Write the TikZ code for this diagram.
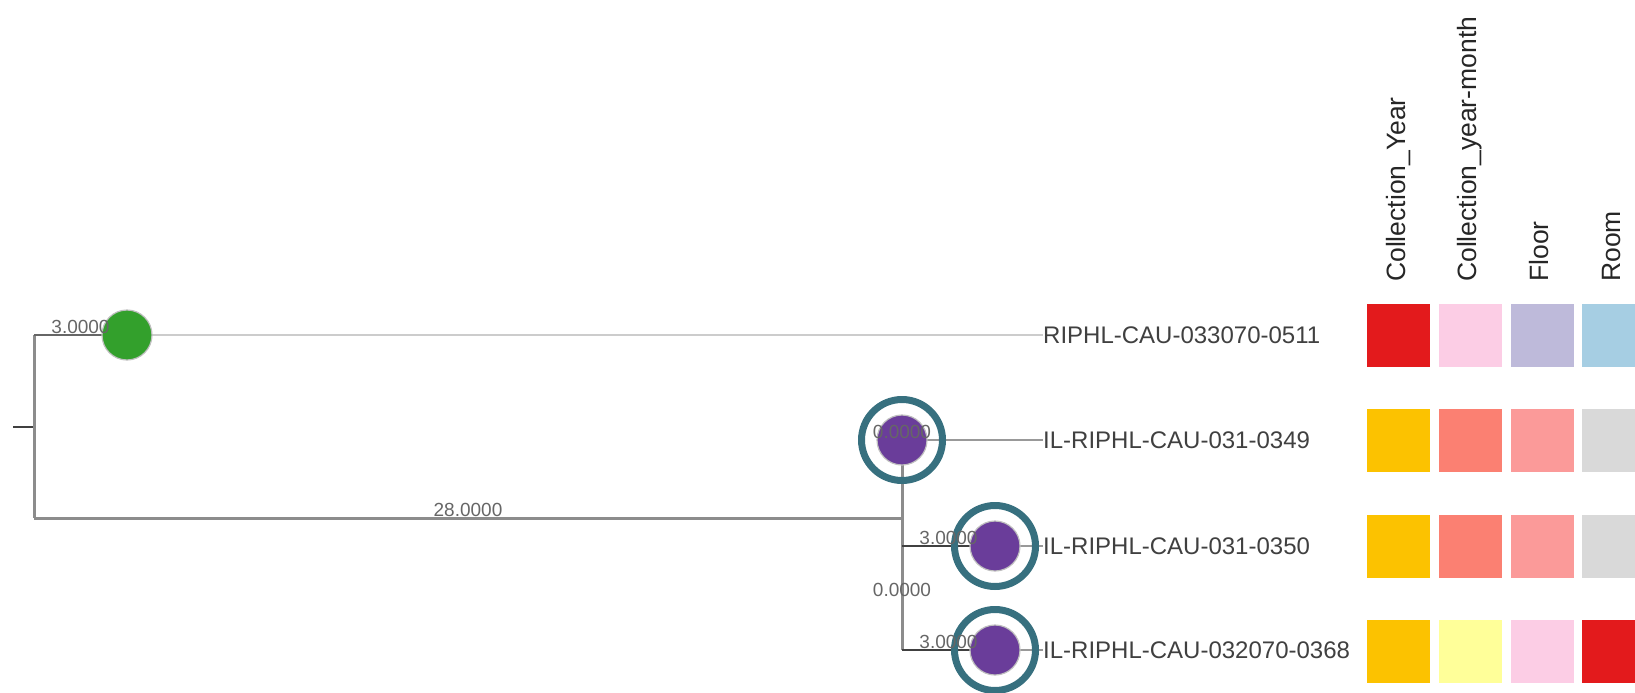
\documentclass[tikz,border=0pt]{standalone}
\usepackage{fontspec}
\setmainfont{Liberation Sans}
\usetikzlibrary{positioning}

\definecolor{cgreen}{HTML}{33A02C}
\definecolor{cpurple}{HTML}{6A3D9A}
\definecolor{cteal}{HTML}{37707F}
\definecolor{cred}{HTML}{E31A1C}
\definecolor{cpink}{HTML}{FCCDE5}
\definecolor{clav}{HTML}{BEBADA}
\definecolor{cblue}{HTML}{A6CEE3}
\definecolor{camber}{HTML}{FCC200}
\definecolor{csalmon}{HTML}{FB8072}
\definecolor{crose}{HTML}{FB9A99}
\definecolor{cgrey}{HTML}{D9D9D9}
\definecolor{cyellow}{HTML}{FFFF99}

\tikzset{
  stem/.style={draw=black!45, line width=3pt},
  twig/.style={draw=black!75, line width=2pt},
  tail/.style={draw=black!40, line width=1.5pt},
  dot/.style={circle, inner sep=0pt, minimum size=50pt, draw=black!25, line width=1.2pt},
  ring/.style={circle, inner sep=0pt, minimum size=81pt, draw=cteal, line width=7pt},
  blen/.style={above, inner sep=1pt, text=black!60, font=\fontsize{19}{22}\selectfont},
  leaf/.style={anchor=base west, yshift=-8pt, inner sep=0pt, text=black!75, font=\fontsize{24}{28}\selectfont},
  head/.style={anchor=mid west, rotate=90, inner sep=0pt, text=black!85, font=\fontsize{26.5}{30}\selectfont},
  cell/.style={minimum size=63pt, inner sep=0pt}
}

\begin{document}
\begin{tikzpicture}[x=1pt,y=-1pt]
 	\useasboundingbox (0,0) rectangle (1635,693);
 	% tree layout
 	\coordinate (tick) at (13,427);
 	\coordinate (root) at (34,427);
 	\coordinate (top) at (34,335);
 	\coordinate (bot) at (34,518);
 	\coordinate (p511) at (127,335);
 	\coordinate (pA) at (902,518);
 	\coordinate (p349) at (902,440);
 	\coordinate (inner) at (902,598);
 	\coordinate (c350) at (902,546);
 	\coordinate (c368) at (902,650);
 	\coordinate (p350) at (995,546);
 	\coordinate (p368) at (995,650);
 	\node[leaf] (l511) at (1043,335) {RIPHL-CAU-033070-0511};
 	\node[leaf] (l349) at (1043,440) {IL-RIPHL-CAU-031-0349};
 	\node[leaf] (l350) at (1043,546) {IL-RIPHL-CAU-031-0350};
 	\node[leaf] (l368) at (1043,650) {IL-RIPHL-CAU-032070-0368};
 	% branches
 	\draw[twig] (tick) -- (root);
 	\draw[stem] (top) -- (bot);
 	\draw[twig, draw=black!60] (top) -- (p511);
 	\draw[tail, draw=black!20, line width=2pt] (p511) -- (l511.west |- p511);
 	\draw[stem] (bot) -- (pA);
 	\draw[stem] (p349) -- (inner);
 	\draw[stem] (c350) -- (c368);
 	\draw[tail] (p349) -- (l349.west |- p349);
 	\draw[twig] (c350) -- (p350);
 	\draw[twig] (c368) -- (p368);
 	\draw[tail] (p350) -- (l350.west |- p350);
 	\draw[tail] (p368) -- (l368.west |- p368);
 	% leaves
 	\node[dot, fill=cgreen] (n511) at (p511) {};
 	\foreach \p in {p349,p350,p368}{
 		\node[ring] at (\p) {};
 		\node[dot, fill=cpurple] (n-\p) at (\p) {};
 	}
 	% branch lengths
 	\path (top) -- node[blen] {3.0000} (p511);
 	\path (bot) -- node[blen] {28.0000} (pA);
 	\path (p349) -- node[blen] {0.0000} (p349);
 	\path (inner) -- node[blen] {0.0000} (inner);
 	\path (c350) -- node[blen] {3.0000} (p350);
 	\path (c368) -- node[blen] {3.0000} (p368);
 	% metadata columns
 	\foreach \name [count=\i] in {Collection\_Year,Collection\_year-month,Floor,Room}
 		\node[head] (h\i) at ({1402.5+71.8*(\i-1)},282) {\name};
 	\foreach \y/\cs in {335/{cred,cpink,clav,cblue},440/{camber,csalmon,crose,cgrey},
 		546/{camber,csalmon,crose,cgrey},651/{camber,cyellow,cpink,cred}}
 		\foreach \c [count=\i] in \cs
 			\node[cell, fill=\c] at ({1398.5+71.8*(\i-1)},\y) {};
 \end{tikzpicture}
\end{document}
